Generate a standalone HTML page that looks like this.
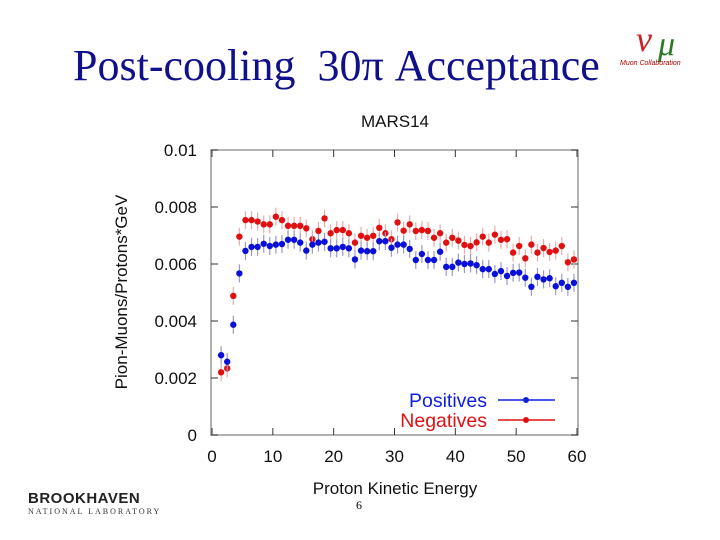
<!DOCTYPE html>
<html><head><meta charset="utf-8"><style>
body{margin:0;background:#fff;width:720px;height:540px;overflow:hidden;position:relative;font-family:"Liberation Sans",sans-serif}
</style></head><body>
<div style="position:absolute;left:73px;top:40px;font-family:'Liberation Serif',serif;font-size:44px;color:#10108a;white-space:nowrap">Post-cooling&nbsp; 30π Acceptance</div>
<div style="position:absolute;left:618px;top:18px;width:86px;height:56px">
<div style="position:absolute;left:18px;top:0;font-family:'Liberation Serif',serif;font-size:36px;color:#c22;font-style:italic">ν</div>
<div style="position:absolute;left:40px;top:8px;font-family:'Liberation Serif',serif;font-size:34px;color:#2a7a2a;font-style:italic">μ</div>
<div style="position:absolute;left:2px;top:42px;font-size:7px;color:#a00;font-style:italic;white-space:nowrap">Muon Collaboration</div></div>
<div style="position:absolute;left:28px;top:490px">
<div style="font-weight:bold;font-size:15px;color:#222;letter-spacing:0.5px">BROOKHAVEN</div>
<div style="font-family:'Liberation Serif',serif;font-size:8px;color:#333;letter-spacing:2px">NATIONAL LABORATORY</div></div>
<div style="position:absolute;left:356px;top:498px;font-family:'Liberation Serif',serif;font-size:12px">6</div>
<svg id="chart" width="720" height="540" style="position:absolute;left:0;top:0"></svg>
<script>
const xs=[];for(let i=0;i<59;i++)xs.push(1.5+i);
const positives=[2.8,2.57,3.87,5.67,6.46,6.6,6.6,6.71,6.63,6.68,6.7,6.85,6.85,6.75,6.47,6.68,6.75,6.78,6.55,6.55,6.6,6.55,6.16,6.47,6.45,6.45,6.8,
6.8,6.57,6.68,6.68,6.53,6.14,6.35,6.14,6.14,6.43,5.9,5.9,6.05,6.0,6.02,5.96,5.82,5.82,5.65,5.75,5.58,5.69,5.7,5.52,5.2,5.55,5.46,5.5,5.22,5.34,5.2,5.34];
const negatives=[2.2,2.34,4.88,6.96,7.54,7.54,7.49,7.39,7.39,7.66,7.54,7.34,7.34,7.34,7.25,6.87,7.16,7.6,7.08,7.19,7.19,7.08,6.75,6.99,6.92,6.99,7.27,
7.08,6.87,7.46,7.17,7.39,7.16,7.19,7.16,6.92,7.08,6.75,6.92,6.82,6.67,6.63,6.76,6.96,6.75,7.03,6.85,6.87,6.4,6.63,6.2,6.68,6.4,6.56,6.42,6.47,6.63,6.06,6.16];
const yTicks=[0,0.002,0.004,0.006,0.008,0.01];
const yTickLabels=["0","0.002","0.004","0.006","0.008","0.01"];
const xTicks=[0,10,20,30,40,50,60];
const NS="http://www.w3.org/2000/svg",svg=document.getElementById('chart');
const L=211,R=578,T=150,B=435;
const sx=v=>L+1+v*(R-L-2)/60, sy=v=>B-v*(B-T)/0.01;
function mk(t,a,p){const e=document.createElementNS(NS,t);for(const k in a)e.setAttribute(k,a[k]);(p||svg).appendChild(e);return e;}
let e=mk('rect',{x:L,y:T,width:R-L,height:B-T,fill:'none',stroke:'#999','stroke-width':1.5});

yTicks.forEach((v,i)=>{const y=sy(v);
mk('line',{x1:L,x2:L+7,y1:y,y2:y,stroke:'#333'});mk('line',{x1:R-7,x2:R,y1:y,y2:y,stroke:'#333'});
const t=mk('text',{x:197,y:y+6,'text-anchor':'end','font-size':17,fill:'#111'});t.textContent=yTickLabels[i];
});
xTicks.forEach(v=>{const x=sx(v);
mk('line',{x1:x,x2:x,y1:B,y2:B-7,stroke:'#333'});mk('line',{x1:x,x2:x,y1:T,y2:T+7,stroke:'#333'});
const t=mk('text',{x:x,y:462,'text-anchor':'middle','font-size':17,fill:'#111'});t.textContent=v;
});
function series(vals,col,bar,name){vals.forEach((v,i)=>{const x=sx(xs[i]),y=sy(v/1000);
mk('line',{x1:x,x2:x,y1:y-9,y2:y+9,stroke:bar,'stroke-width':1.2});
const c=mk('circle',{cx:x,cy:y,r:3.2,fill:col});
});}
series(negatives,'#e01010','#eaa','negatives');
series(positives,'#0a10d8','#99c','positives');
function txt(s,a,n){const t=mk('text',a);t.textContent=s;return t;}
txt('MARS14',{x:395,y:127,'text-anchor':'middle','font-size':17,fill:'#111'},'chart-title');
txt('Proton Kinetic Energy',{x:395,y:494,'text-anchor':'middle','font-size':17,fill:'#111'},'x-axis-title');
txt('Pion-Muons/Protons*GeV',{transform:'translate(127,292) rotate(-90)','text-anchor':'middle','font-size':17,fill:'#111'},'y-axis-title');
txt('Positives',{x:487,y:407,'text-anchor':'end','font-size':19.5,fill:'#1020e0'},'legend-positives');
mk('line',{x1:498,x2:555,y1:400,y2:400,stroke:'#1020e0','stroke-width':1.5});mk('circle',{cx:526,cy:400,r:3,fill:'#1020e0'});
txt('Negatives',{x:487,y:427,'text-anchor':'end','font-size':19.5,fill:'#e01010'},'legend-negatives');
mk('line',{x1:498,x2:555,y1:420,y2:420,stroke:'#e01010','stroke-width':1.5});mk('circle',{cx:526,cy:420,r:3,fill:'#e01010'});
</script>
</body></html>
